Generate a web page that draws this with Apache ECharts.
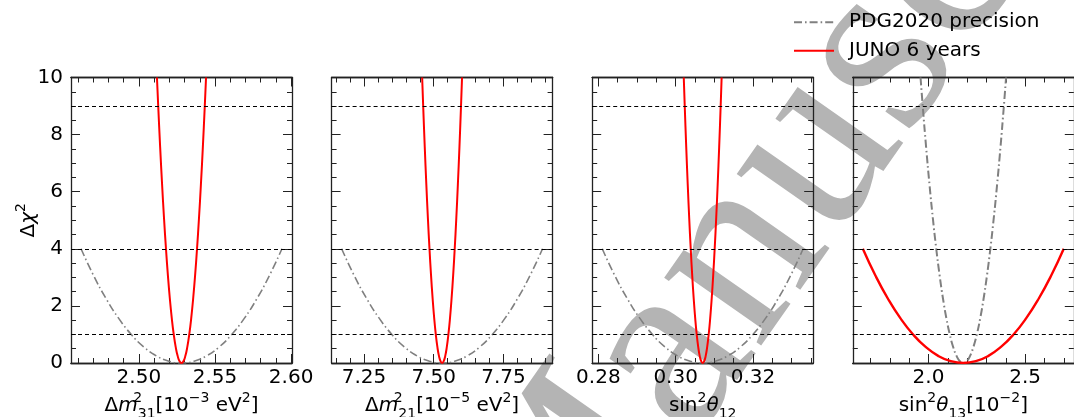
<!DOCTYPE html>
<html>
<head>
<meta charset="utf-8">
<script src="https://cdn.jsdelivr.net/npm/echarts@6/dist/echarts.min.js"></script>
<style>
  html, body { margin: 0; padding: 0; background: #ffffff; }
  #chart { width: 1074px; height: 417px; }
</style>
</head>
<body>
<div id="chart"></div>
<script>
// Delta chi^2 profiles of four oscillation parameters: PDG2020 precision vs JUNO after 6 years.

// x-axis extent of each panel
const xMin = [2.4554, 7.134, 0.2784, 1.608];
const xMax = [2.6006, 7.926, 0.3356, 2.752];

// labelled ticks and minor tick spacing for each panel
const majorTicks = [[2.50, 2.55, 2.60], [7.25, 7.50, 7.75], [0.28, 0.30, 0.32], [2.0, 2.5]];
const minorStep = [0.01, 0.05, 0.005, 0.1];
const tickDecimals = [2, 2, 2, 1];

// horizontal reference levels (1, 2, 3 sigma)
const refLevels = [1, 4, 9];

// Delta chi^2 values of the sampled curve points
const chiWide = [4, 3.0625, 2.25, 1.5625, 1, 0.5625, 0.25, 0.0625, 0,
                 0.0625, 0.25, 0.5625, 1, 1.5625, 2.25, 3.0625, 4];
const chiTall = [10, 9, 7.5625, 6.25, 5.0625, 4, 3.0625, 2.25, 1.5625, 1, 0.5625, 0.25, 0.0625, 0,
                 0.0625, 0.25, 0.5625, 1, 1.5625, 2.25, 3.0625, 4, 5.0625, 6.25, 7.5625, 9, 10];

// PDG2020 precision curves (parameter value at each Delta chi^2 point)
const pdgX = [
  [2.462, 2.47025, 2.4785, 2.48675, 2.495, 2.50325, 2.5115, 2.51975, 2.528,
   2.53625, 2.5445, 2.55275, 2.561, 2.56925, 2.5775, 2.58575, 2.594],
  [7.17, 7.215, 7.26, 7.305, 7.35, 7.395, 7.44, 7.485, 7.53,
   7.575, 7.62, 7.665, 7.71, 7.755, 7.80, 7.845, 7.89],
  [0.281, 0.28425, 0.2875, 0.29075, 0.294, 0.29725, 0.3005, 0.30375, 0.307,
   0.31025, 0.3135, 0.31675, 0.320, 0.32325, 0.3265, 0.32975, 0.333],
  [1.95866, 1.97, 1.9875, 2.005, 2.0225, 2.04, 2.0575, 2.075, 2.0925, 2.11, 2.1275, 2.145, 2.1625, 2.18,
   2.1975, 2.215, 2.2325, 2.25, 2.2675, 2.285, 2.3025, 2.32, 2.3375, 2.355, 2.3725, 2.39, 2.40134]
];

// JUNO 6 years curves
const junoX = [
  [2.511874, 2.5127, 2.513975, 2.51525, 2.516525, 2.5178, 2.519075, 2.52035, 2.521625, 2.5229, 2.524175, 2.52545, 2.526725, 2.528,
   2.529275, 2.53055, 2.531825, 2.5331, 2.534375, 2.53565, 2.536925, 2.5382, 2.539475, 2.54075, 2.542025, 2.5433, 2.544126],
  [7.458539, 7.4622, 7.46785, 7.4735, 7.47915, 7.4848, 7.49045, 7.4961, 7.50175, 7.5074, 7.51305, 7.5187, 7.52435, 7.53,
   7.53565, 7.5413, 7.54695, 7.5526, 7.55825, 7.5639, 7.56955, 7.5752, 7.58085, 7.5865, 7.59215, 7.5978, 7.601461],
  [0.302099, 0.30235, 0.3027375, 0.303125, 0.3035125, 0.3039, 0.3042875, 0.304675, 0.3050625, 0.30545, 0.3058375, 0.306225, 0.3066125, 0.307,
   0.3073875, 0.307775, 0.3081625, 0.30855, 0.3089375, 0.309325, 0.3097125, 0.3101, 0.3104875, 0.310875, 0.3112625, 0.31165, 0.311901],
  [1.66, 1.725, 1.79, 1.855, 1.92, 1.985, 2.05, 2.115, 2.18,
   2.245, 2.31, 2.375, 2.44, 2.505, 2.57, 2.635, 2.70]
];

const seriesNames = ['PDG2020 precision', 'JUNO 6 years'];

// axis titles (rich text markup)
const xTitles = [
  '{t|Δ}{i|m}{sz|2}{sb|31}{t|[10}{sp|−3}{t| eV}{sp|2}{t|]}',
  '{t|Δ}{i|m}{sz|2}{sb|21}{t|[10}{sp|−5}{t| eV}{sp|2}{t|]}',
  '{t|sin}{sp|2}{i|θ}{sb|12}',
  '{t|sin}{sp|2}{i|θ}{sb|13}{t|[10}{sp|−2}{t|]}'
];
const yTitle = '{t|Δ}{i|χ}{sp|2}';

const FONT = 'DejaVu Sans';
const INK = '#222222';
const gridLeft = [71, 331.6, 592.2, 852.8];
const gridWidth = 221;
const gridTop = 77.5;
const gridHeight = 285.5;

const rich = {
  t:  { fontSize: 20, fontFamily: FONT, fill: '#000', lineHeight: 30 },
  i:  { fontSize: 20, fontFamily: FONT, fill: '#000', lineHeight: 30, fontStyle: 'italic' },
  sp: { fontSize: 14, fontFamily: FONT, fill: '#000', lineHeight: 14, verticalAlign: 'top' },
  sz: { fontSize: 14, fontFamily: FONT, fill: '#000', lineHeight: 14, verticalAlign: 'top', width: 0.1 },
  sb: { fontSize: 14, fontFamily: FONT, fill: '#000', lineHeight: 14, verticalAlign: 'bottom' }
};

function stepTicks(lo, hi, step) {
  const out = [];
  const n0 = Math.ceil(lo / step - 1e-9);
  const n1 = Math.floor(hi / step + 1e-9);
  for (let n = n0; n <= n1; n++) out.push(+(n * step).toFixed(6));
  return out;
}

const grids = [], xAxes = [], yAxes = [], series = [], titles = [];
const frameLine = { show: true, onZero: false, lineStyle: { color: INK, width: 1.3 } };

for (let i = 0; i < 4; i++) {
  grids.push({ left: gridLeft[i], top: gridTop, width: gridWidth, height: gridHeight });

  const minors = stepTicks(xMin[i], xMax[i], minorStep[i]);
  const baseX = {
    type: 'value', gridIndex: i, min: xMin[i], max: xMax[i],
    axisLine: frameLine, splitLine: { show: false }, minorTick: { show: false }
  };
  const majorTick = { show: true, inside: true, length: 9, lineStyle: { color: INK }, customValues: majorTicks[i] };
  const minorTick = { show: true, inside: true, length: 5, lineStyle: { color: INK }, customValues: minors };

  xAxes.push(Object.assign({}, baseX, {
    position: 'bottom',
    axisTick: majorTick,
    axisLabel: {
      show: true, customValues: majorTicks[i], margin: 5,
      fontSize: 20, fontFamily: FONT, color: '#000',
      formatter: (v) => Number(v).toFixed(tickDecimals[i])
    }
  }));
  xAxes.push(Object.assign({}, baseX, { position: 'bottom', axisTick: minorTick, axisLabel: { show: false } }));
  xAxes.push(Object.assign({}, baseX, { position: 'top', axisTick: majorTick, axisLabel: { show: false } }));
  xAxes.push(Object.assign({}, baseX, { position: 'top', axisTick: minorTick, axisLabel: { show: false } }));

  const baseY = {
    type: 'value', gridIndex: i, min: 0, max: 10, interval: 2,
    axisLine: frameLine, splitLine: { show: false },
    axisTick: { show: true, inside: true, length: 9, lineStyle: { color: INK } },
    minorTick: { show: true, splitNumber: 4, length: 5, lineStyle: { color: INK } }
  };
  yAxes.push(Object.assign({}, baseY, {
    position: 'left',
    axisLabel: { show: i === 0, margin: 8, fontSize: 20, fontFamily: FONT, color: '#000' }
  }));
  yAxes.push(Object.assign({}, baseY, { position: 'right', axisLabel: { show: false } }));

  // x-axis title under each panel
  titles.push({
    type: 'text', silent: true, z: 10,
    x: gridLeft[i] + gridWidth / 2, y: gridTop + gridHeight + 28,
    style: { text: xTitles[i], rich: rich, align: 'center', verticalAlign: 'top' }
  });

  const pdgChi = pdgX[i].length === chiWide.length ? chiWide : chiTall;
  const junoChi = junoX[i].length === chiWide.length ? chiWide : chiTall;
  const wide = i === 3;

  series.push({
    type: 'line', name: seriesNames[0], xAxisIndex: 4 * i, yAxisIndex: 2 * i,
    data: pdgX[i].map((x, j) => [x, pdgChi[j]]),
    smooth: true, symbol: 'none',
    lineStyle: { color: '#808080', width: wide ? 2 : 1.6, type: [8, 3, 1.6, 3] },
    markLine: {
      silent: true, symbol: 'none', label: { show: false },
      lineStyle: { color: '#000', width: 1, type: [4, 3] },
      data: refLevels.map((v) => ({ yAxis: v }))
    }
  });
  series.push({
    type: 'line', name: seriesNames[1], xAxisIndex: 4 * i, yAxisIndex: 2 * i,
    data: junoX[i].map((x, j) => [x, junoChi[j]]),
    smooth: true, symbol: 'none',
    lineStyle: { color: '#ff0000', width: wide ? 2.4 : 2 }
  });
}

// y-axis title, reading bottom to top
titles.push({
  type: 'text', silent: true, z: 10,
  x: 29, y: gridTop + gridHeight / 2, rotation: Math.PI / 2,
  style: { text: yTitle, rich: rich, align: 'center', verticalAlign: 'middle' }
});

// large grey "Manuscript" stamp behind the panels
const stamp = {
  type: 'text', z: -1, silent: true,
  x: 842, y: 112, rotation: 0.96,
  style: {
    text: 'Manuscript', fontSize: 258, fontFamily: 'Liberation Serif',
    fill: '#b4b4b4', align: 'center', verticalAlign: 'middle'
  }
};

const chart = echarts.init(document.getElementById('chart'));
// panels, curves and legend first
chart.setOption({
  animation: false,
  grid: grids,
  xAxis: xAxes,
  yAxis: yAxes,
  legend: {
    orient: 'vertical', left: 793, top: 12.2, padding: 0,
    itemWidth: 40, itemHeight: 14, itemGap: 8.6, selectedMode: false,
    data: seriesNames,
    itemStyle: { opacity: 0 },
    textStyle: { fontSize: 20, fontFamily: FONT, color: '#000', lineHeight: 20, padding: [0, 0, 0, 10] }
  },
  series: series
});
chart.getZr().storage.getDisplayList(true);
// then the titles and the stamp
chart.setOption({ graphic: { elements: [stamp].concat(titles) } });
</script>
</body>
</html>
